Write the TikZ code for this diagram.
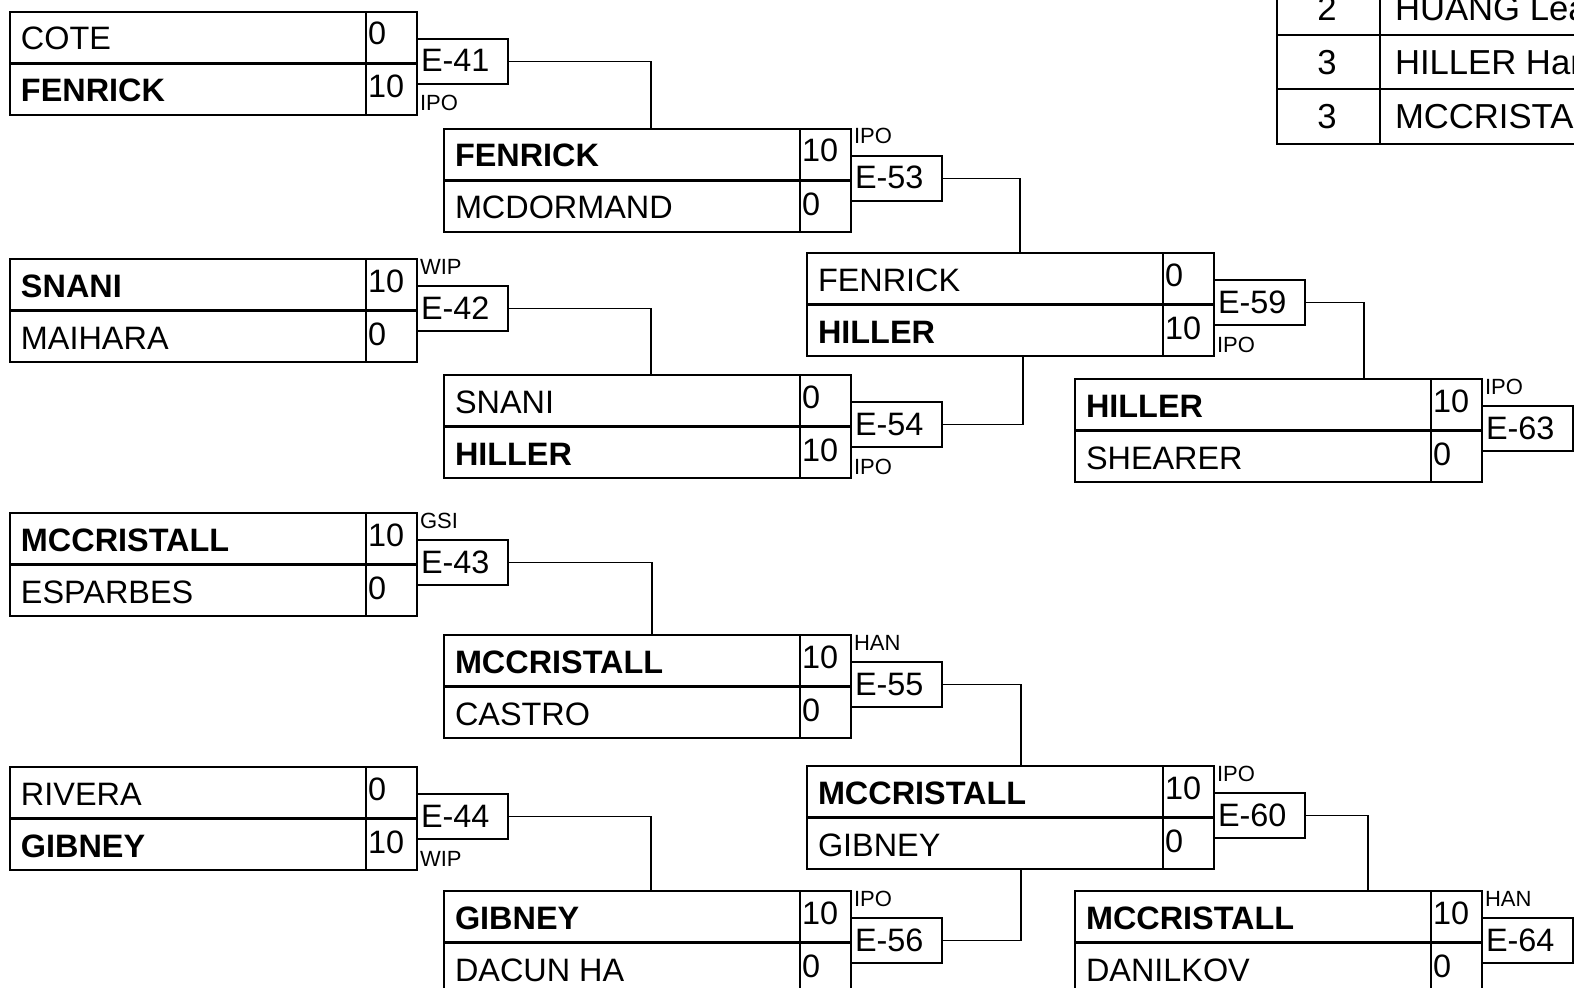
\documentclass[tikz,border=0pt]{standalone}
\usepackage{fontspec}
\setmainfont{Liberation Sans}
\usetikzlibrary{calc}
\tikzset{
  mbox/.style={draw, rectangle, line width=1.4pt, minimum width={407*0.75pt}, minimum height={103*0.75pt}, inner sep=0pt, outer sep=0pt},
  ebox/.style={draw, rectangle, line width=1.1pt, minimum width={91*0.75pt}, minimum height={45*0.75pt}, inner sep=0pt, outer sep=0pt},
  divl/.style={line width=1.4pt},
  midl/.style={line width=2pt},
  conn/.style={line width=1.1pt},
  txt/.style={inner sep=0pt, outer sep=0pt, font=\fontsize{24.3pt}{28pt}\selectfont},
  ttxt/.style={inner sep=0pt, outer sep=0pt, font=\fontsize{26pt}{30pt}\selectfont},
  lb/.style={inner sep=0pt, outer sep=0pt, font=\fontsize{16.5pt}{19pt}\selectfont},
  tline/.style={line width=1.5pt},
  tframe/.style={line width=2.2pt},
}
% #1 id, #2 x, #3 y, #4 name1, #5 score1, #6 name2, #7 score2, #8 label, #9 label baseline offset
\newcommand\matchbx[9]{%
  \node[mbox, anchor=north west] (m#1) at (#2,#3) {};
  \draw[divl] ($(m#1.north west)+(356,0)$) -- ($(m#1.south west)+(356,0)$);
  \draw[midl] (m#1.west) -- (m#1.east);
  \node[txt, anchor=base west] (m#1na) at ($(m#1.north west)+(11,38)$) {#4};
  \node[txt, anchor=base west] (m#1sa) at ($(m#1.north west)+(358,33)$) {#5};
  \node[txt, anchor=base west] (m#1nb) at ($(m#1.north west)+(11,90)$) {#6};
  \node[txt, anchor=base west] (m#1sb) at ($(m#1.north west)+(358,86)$) {#7};
  \node[ebox, anchor=north west] (e#1) at ($(m#1.north east)+(0,27)$) {};
  \node[txt, anchor=base west] (e#1t) at ($(e#1.north west)+(4,33)$) {E-#1};
  \node[lb, anchor=base west] (e#1l) at ($(e#1.north west)+(3,#9)$) {#8};
}
\begin{document}
\begin{tikzpicture}[x=0.75pt, y=-0.75pt]
\useasboundingbox (0,0) rectangle (1574,988);
\fill[white] (0,0) rectangle (1574,988);
\clip (0,0) rectangle (1574,988);

% round 1
\matchbx{41}{10}{12}{COTE}{0}{\bfseries FENRICK}{10}{IPO}{72}
\matchbx{42}{10}{259}{\bfseries SNANI}{10}{MAIHARA}{0}{WIP}{-12}
\matchbx{43}{10}{513}{\bfseries MCCRISTALL}{10}{ESPARBES}{0}{GSI}{-12}
\matchbx{44}{10}{767}{RIVERA}{0}{\bfseries GIBNEY}{10}{WIP}{72}
% round 2
\matchbx{53}{444}{129}{\bfseries FENRICK}{10}{MCDORMAND}{0}{IPO}{-12}
\matchbx{54}{444}{375}{SNANI}{0}{\bfseries HILLER}{10}{IPO}{72}
\matchbx{55}{444}{635}{\bfseries MCCRISTALL}{10}{CASTRO}{0}{HAN}{-12}
\matchbx{56}{444}{891}{\bfseries GIBNEY}{10}{DACUN HA}{0}{IPO}{-12}
% round 3
\matchbx{59}{807}{253}{FENRICK}{0}{\bfseries HILLER}{10}{IPO}{72}
\matchbx{60}{807}{766}{\bfseries MCCRISTALL}{10}{GIBNEY}{0}{IPO}{-12}
% round 4
\matchbx{63}{1075}{379}{\bfseries HILLER}{10}{SHEARER}{0}{IPO}{-12}
\matchbx{64}{1075}{891}{\bfseries MCCRISTALL}{10}{DANILKOV}{0}{HAN}{-12}

% connectors
\draw[conn] (e41.east) -| ($(m53.north west)+(207,0)$);
\draw[conn] (e42.east) -| ($(m54.north west)+(207,0)$);
\draw[conn] (e43.east) -| ($(m55.north west)+(208,0)$);
\draw[conn] (e44.east) -| ($(m56.north west)+(207,0)$);
\draw[conn] (e53.east) -| ($(m59.north west)+(213,0)$);
\draw[conn] (e54.east) -| ($(m59.south west)+(216,0)$);
\draw[conn] (e55.east) -| ($(m60.north west)+(214,0)$);
\draw[conn] (e56.east) -| ($(m60.south west)+(214,0)$);
\draw[conn] (e59.east) -| ($(m63.north west)+(289,0)$);
\draw[conn] (e60.east) -| ($(m64.north west)+(293,0)$);

% ranking table (cut by the picture edge)
\draw[tline] (1380,-30) -- (1380,144);
\draw[tline] (1277,35) -- (1620,35);
\draw[tline] (1277,89) -- (1620,89);
\draw[tframe] (1277,-30) -- (1277,144) -- (1620,144);
\node[ttxt, anchor=base] (r1n) at (1327,21) {2};
\node[ttxt, anchor=base west] (r1t) at (1395,21) {HUANG Lea};
\node[ttxt, anchor=base] (r2n) at (1327,75) {3};
\node[ttxt, anchor=base west] (r2t) at (1395,75) {HILLER Han};
\node[ttxt, anchor=base] (r3n) at (1327,129) {3};
\node[ttxt, anchor=base west] (r3t) at (1395,129) {MCCRISTALL};
\end{tikzpicture}
\end{document}
